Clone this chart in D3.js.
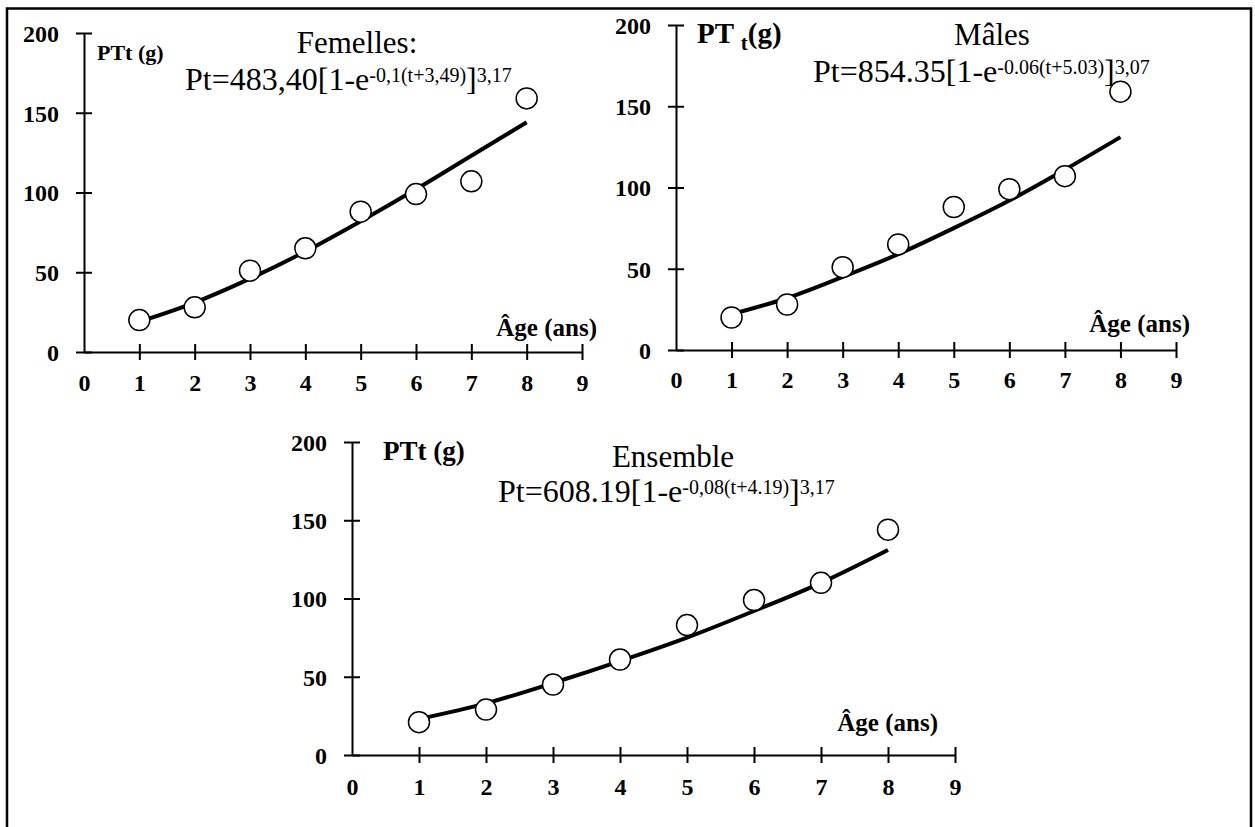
<!DOCTYPE html>
<html>
<head>
<meta charset="utf-8">
<script src="https://cdn.jsdelivr.net/npm/d3@7"></script>
<style>
  body { margin: 0; background: #fff; }
  svg text { font-family: "Liberation Serif", "Times New Roman", serif; fill: #000; }
</style>
</head>
<body>
<svg id="chart"></svg>
<script>
// values
const ages = [1, 2, 3, 4, 5, 6, 7, 8];
const xTicks = [0, 1, 2, 3, 4, 5, 6, 7, 8, 9];
const yTicks = [0, 50, 100, 150, 200];

const femellesObs = [20, 28, 51, 65, 88, 99, 107, 159];
const femellesFit = [19, 31, 46, 63, 82, 102, 123, 144];
const malesObs = [20, 28, 51, 65, 88, 99, 107, 159];
const malesFit = [22, 32, 45, 59, 75, 92, 111, 131];
const ensembleObs = [21, 29, 45, 61, 83, 99, 110, 144];
const ensembleFit = [23, 33, 46, 60, 75, 92, 110, 131];

const titles = ["Femelles:", "Mâles", "Ensemble"];
const equations = [
    ["Pt=483,40[1-e", "-0,1(t+3,49)", "]", "3,17"],
    ["Pt=854.35[1-e", "-0.06(t+5.03)", "]", "3,07"],
    ["Pt=608.19[1-e", "-0,08(t+4.19)", "]", "3,17"]
];

const width = 1255, height = 827;
const svg = d3.select("#chart")
    .attr("width", width)
    .attr("height", height);

// outer frame (left, top, right)
svg.append("path")
    .attr("d", "M7,827 L7,8.5 L1251,8.5 L1251,827")
    .attr("fill", "none")
    .attr("stroke", "#000")
    .attr("stroke-width", 2.5);

// panel layouts
let panels = [
    { obs: femellesObs, fit: femellesFit, x0: 84, x1: 582, y0: 352, y1: 33, lab: 39,
      title: { x: 357, y: 53 }, eq: { x: 185, y: 90 },
      ylab: { x: 97, y: 60, size: 22, sub: false }, age: { x: 597, y: 336 } },
    { obs: malesObs, fit: malesFit, x0: 676, x1: 1176, y0: 350, y1: 25, lab: 38,
      title: { x: 992, y: 45 }, eq: { x: 813, y: 82 },
      ylab: { x: 697, y: 43, size: 29, sub: true }, age: { x: 1190, y: 332 } },
    { obs: ensembleObs, fit: ensembleFit, x0: 352, x1: 955, y0: 755, y1: 442, lab: 40,
      title: { x: 673, y: 467 }, eq: { x: 498, y: 502 },
      ylab: { x: 383, y: 460, size: 27, sub: false }, age: { x: 938, y: 731 } }
];

panels.forEach((p, i) => {
    let x = d3.scaleLinear().domain([0, 9]).range([p.x0, p.x1]);
    let y = d3.scaleLinear().domain([0, 200]).range([p.y0, p.y1]);
    let g = svg.append("g");

    // x axis
    let xAxis = g.append("g")
        .attr("transform", `translate(0,${p.y0})`)
        .call(d3.axisBottom(x).tickValues(xTicks).tickSizeOuter(0).tickFormat(d3.format("d")));
    xAxis.select(".domain").attr("stroke-width", 2);
    xAxis.selectAll(".tick line")
        .attr("y1", -8).attr("y2", 8)
        .attr("stroke-width", 2)
        .attr("display", d => d === 0 ? "none" : null);
    xAxis.selectAll(".tick text")
        .attr("y", p.lab).attr("dy", 0)
        .attr("font-size", 24).attr("font-weight", "bold");

    // y axis
    let yAxis = g.append("g")
        .attr("transform", `translate(${p.x0},0)`)
        .call(d3.axisLeft(y).tickValues(yTicks).tickSizeOuter(0));
    yAxis.select(".domain").attr("stroke-width", 2);
    yAxis.selectAll(".tick line")
        .attr("x1", -8).attr("x2", 8)
        .attr("stroke-width", 2);
    yAxis.selectAll(".tick text")
        .attr("x", -25).attr("dy", "0.35em")
        .attr("font-size", 24).attr("font-weight", "bold");

    // fitted curve
    let line = d3.line()
        .x((d, j) => x(ages[j]))
        .y(d => y(d))
        .curve(d3.curveMonotoneX);
    g.append("path")
        .datum(p.fit)
        .attr("d", line)
        .attr("fill", "none")
        .attr("stroke", "#000")
        .attr("stroke-width", 4);

    // observed points
    g.selectAll("circle")
        .data(p.obs)
        .enter().append("circle")
        .attr("cx", (d, j) => x(ages[j]))
        .attr("cy", d => y(d))
        .attr("r", 10.5)
        .attr("fill", "#fff")
        .attr("stroke", "#000")
        .attr("stroke-width", 1.5);

    // y label
    let yl = g.append("text")
        .attr("x", p.ylab.x).attr("y", p.ylab.y)
        .attr("font-weight", "bold")
        .attr("font-size", p.ylab.size);
    if (p.ylab.sub) {
        yl.append("tspan").text("PT ");
        yl.append("tspan").attr("font-size", 21).attr("dy", 7).text("t");
        yl.append("tspan").attr("dy", -7).text("(g)");
    } else {
        yl.text("PTt (g)");
    }

    // x label
    g.append("text")
        .attr("x", p.age.x).attr("y", p.age.y)
        .attr("text-anchor", "end")
        .attr("font-weight", "bold")
        .attr("font-size", 25)
        .text("Âge (ans)");

    // title and equation
    g.append("text")
        .attr("x", p.title.x).attr("y", p.title.y)
        .attr("text-anchor", "middle")
        .attr("font-size", 31)
        .text(titles[i]);

    let eq = equations[i];
    let t = g.append("text")
        .attr("x", p.eq.x).attr("y", p.eq.y)
        .attr("font-size", 32);
    t.append("tspan").text(eq[0]);
    t.append("tspan").attr("font-size", 20).attr("dy", -8).text(eq[1]);
    t.append("tspan").attr("dy", 8).text(eq[2]);
    t.append("tspan").attr("font-size", 20).attr("dy", -8).text(eq[3]);
});
</script>
</body>
</html>
